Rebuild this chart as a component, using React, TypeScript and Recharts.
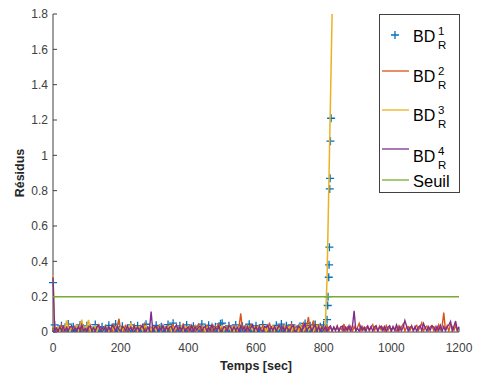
import React from 'react'
import { ComposedChart, Line, XAxis, YAxis } from 'recharts'

const FONT = '"Liberation Sans", Arial, Helvetica, sans-serif'
const AXIS = '#404040'

const STEP = 5 // sampling step of the noise arrays, sec
const xTicks = [0, 200, 400, 600, 800, 1000, 1200]
const yTicks = [0, 0.2, 0.4, 0.6, 0.8, 1, 1.2, 1.4, 1.6, 1.8]

// BD_R^1 (blue +), x1e-3, every 5 s from 0 to 805 s
const bd1Noise = [
  280, 40, 5, 8, 3, 35, 6, 4, 10, 45,
  5, 7, 30, 4, 9, 6, 40, 3, 8, 5,
  35, 6, 4, 10, 7, 42, 5, 3, 8, 30,
  6, 4, 9, 38, 5, 7, 3, 45, 6, 8,
  4, 32, 7, 5, 9, 3, 40, 6, 8, 4,
  36, 5, 7, 4, 10, 44, 6, 3, 8, 5,
  7, 38, 4, 6, 30, 5, 9, 3, 42, 6,
  4, 50, 8, 5, 7, 35, 3, 6, 9, 40,
  5, 7, 4, 33, 6, 8, 3, 10, 45, 5,
  7, 4, 38, 6, 9, 5, 30, 3, 8, 46,
  50, 6, 4, 8, 35, 5, 7, 3, 40, 6,
  9, 4, 32, 5, 7, 3, 44, 6, 8, 5,
  36, 4, 7, 5, 42, 6, 3, 9, 30, 5,
  7, 4, 38, 6, 5, 45, 8, 3, 35, 6,
  4, 40, 7, 5, 9, 3, 33, 6, 8, 48,
  5, 7, 36, 4, 6, 42, 3, 8, 30, 5,
  40, 6,
]
// BD_R^1 during the fault
const bd1FaultTime = [810, 812, 813, 815, 816, 817, 818, 819, 820, 822]
const bd1FaultVal = [0.07, 0.15, 0.2, 0.31, 0.38, 0.48, 0.81, 0.87, 1.08, 1.21]

// BD_R^2 (orange), x1e-3, every 5 s from 0 to 1200 s
const bd2 = [
  8, 30, 5, 22, 12, 38, 4, 26, 10, 40,
  6, 28, 14, 33, 3, 24, 45, 9, 30, 5,
  26, 7, 38, 12, 20, 4, 32, 42, 8, 25,
  10, 35, 5, 27, 15, 4, 40, 11, 33, 75,
  9, 28, 4, 35, 14, 6, 31, 10, 40, 5,
  22, 8, 34, 12, 45, 6, 19, 30, 4, 26,
  32, 7, 27, 38, 5, 25, 12, 30, 36, 8,
  28, 42, 6, 26, 11, 33, 4, 48, 9, 29,
  5, 35, 14, 30, 6, 27, 44, 10, 31, 4,
  26, 37, 8, 28, 5, 34, 12, 30, 46, 7,
  27, 5, 33, 13, 40, 6, 29, 9, 35, 4,
  30, 105, 8, 28, 36, 5, 26, 41, 10, 31,
  6, 34, 27, 4, 38, 12, 30, 7, 45, 26,
  5, 32, 10, 29, 40, 6, 35, 14, 4, 33,
  9, 44, 5, 31, 12, 37, 4, 28, 50, 8,
  30, 85, 10, 35, 65, 6, 30, 40, 9, 36,
  12, 5, 34, 8, 30, 4, 27, 10, 35, 6,
  26, 8, 45, 5, 28, 11, 32, 4, 30, 9,
  27, 48, 6, 30, 10, 26, 34, 5, 28, 42,
  7, 30, 4, 33, 12, 28, 6, 36, 9, 29,
  5, 31, 14, 4, 34, 10, 29, 45, 6, 27,
  30, 8, 35, 5, 28, 38, 9, 30, 52, 4,
  27, 33, 6, 29, 36, 10, 30, 5, 40, 12,
  30, 110, 8, 35, 5, 45, 30, 9, 38, 6,
  28,
]

// BD_R^3 (yellow), x1e-3, every 5 s from 0 to 830 s (fault ramp at the end)
const bd3 = [
  320, 8, 18, 30, 5, 22, 28, 6, 65, 24,
  4, 30, 12, 22, 35, 6, 28, 70, 8, 25,
  30, 68, 5, 26, 10, 32, 4, 29, 12, 27,
  6, 34, 19, 5, 25, 31, 8, 27, 36, 4,
  26, 9, 30, 5, 33, 12, 52, 6, 18, 29,
  4, 31, 26, 8, 28, 35, 5, 27, 11, 30,
  24, 6, 18, 33, 5, 22, 30, 9, 27, 36,
  5, 28, 12, 31, 4, 26, 34, 8, 29, 25,
  30, 6, 27, 11, 35, 5, 21, 29, 8, 32,
  4, 28, 25, 9, 33, 6, 30, 18, 5, 29,
  35, 8, 27, 5, 31, 12, 29, 4, 28, 10,
  26, 32, 5, 29, 9, 34, 6, 28, 12, 30,
  5, 27, 36, 8, 19, 31, 4, 22, 29, 10,
  33, 6, 28, 12, 30, 5, 27, 35, 8, 26,
  29, 5, 31, 10, 20, 4, 34, 24, 7, 21,
  30, 9, 22, 33, 5, 29, 38, 6, 31, 27,
  8, 40, 300, 800, 1300, 1800, 2300,
]

// BD_R^4 (purple), x1e-3, every 5 s from 0 to 1200 s
const bd4 = [
  310, 6, 22, 4, 28, 10, 32, 5, 25, 8,
  27, 35, 6, 24, 4, 30, 12, 40, 7, 19,
  5, 28, 33, 8, 25, 4, 30, 36, 6, 27,
  10, 31, 4, 29, 7, 38, 26, 5, 33, 12,
  4, 30, 24, 6, 35, 9, 28, 5, 32, 11,
  30, 5, 27, 36, 8, 4, 29, 10, 115, 6,
  26, 33, 5, 28, 9, 38, 4, 30, 12, 27,
  32, 6, 26, 40, 5, 29, 11, 34, 4, 20,
  28, 7, 36, 5, 30, 10, 27, 33, 4, 26,
  31, 5, 25, 9, 42, 6, 27, 12, 34, 4,
  8, 30, 26, 5, 35, 28, 6, 32, 10, 27,
  4, 36, 9, 29, 6, 31, 5, 27, 38, 11,
  29, 5, 33, 8, 4, 30, 26, 40, 6, 28,
  10, 31, 4, 27, 35, 7, 29, 5, 33, 12,
  6, 28, 37, 4, 9, 32, 26, 5, 30, 44,
  8, 25, 33, 5, 27, 38, 6, 30, 4, 28,
  10, 30, 5, 26, 34, 6, 29, 8, 31, 4,
  27, 33, 6, 28, 9, 36, 5, 30, 120, 7,
  21, 5, 34, 10, 27, 4, 32, 12, 30, 6,
  28, 36, 5, 26, 33, 8, 30, 4, 27, 35,
  6, 29, 10, 40, 5, 31, 8, 28, 65, 34,
  5, 27, 33, 9, 30, 4, 28, 36, 7, 48,
  26, 6, 30, 10, 35, 28, 5, 32, 9, 38,
  5, 30, 8, 29, 40, 60, 6, 33, 62, 10,
  30,
]

// threshold
const seuilTime = [0, 1200]
const seuil = 0.2

const toPoints = (vals: number[]) => vals.map((v, i) => ({ t: i * STEP, v: v / 1000 }))

const bd1Data = [
  ...toPoints(bd1Noise),
  ...bd1FaultTime.map((t, i) => ({ t, v: bd1FaultVal[i] })),
]
const bd2Data = toPoints(bd2)
const bd3Data = toPoints(bd3)
const bd4Data = toPoints(bd4)
const seuilData = seuilTime.map(t => ({ t, v: seuil }))

const Plus = (props: any) => {
  const { cx, cy } = props
  if (cx == null || cy == null) return null
  const a = 4
  return (
    <path
      key={`${cx}-${cy}`}
      d={`M${cx - a},${cy}H${cx + a}M${cx},${cy - a}V${cy + a}`}
      stroke="#0072BD"
      strokeWidth={1.3}
      fill="none"
    />
  )
}

const fmtY = (v: number) => String(Number(v.toFixed(1)))
const tickStyle = { fill: AXIS, fontSize: 12, fontFamily: FONT }
const W = 477
const H = 378
const MARGIN = { top: 14, right: 18, bottom: 0, left: 0 }
// the overlay has no visible axes, so its margins take the axes' room
const OVERLAY_MARGIN = { top: 14, right: 18, bottom: 46, left: 53 }

// MATLAB-like legend box, laid over the top right corner of the axes
function LegendBox() {
  const rows = [
    { sup: '1', color: '#0072BD', base: 28, mark: 21, plus: true },
    { sup: '2', color: '#D95319', base: 68, mark: 57 },
    { sup: '3', color: '#EDB120', base: 107, mark: 96 },
    { sup: '4', color: '#7E2F8E', base: 148, mark: 135 },
  ]
  return (
    <svg
      width={81}
      height={179}
      style={{ position: 'absolute', left: 379, top: 14, fontFamily: FONT }}
    >
      <rect x={0.5} y={0.5} width={80} height={178} fill="#fff" stroke={AXIS} />
      {rows.map(r => (
        <g key={r.sup}>
          {r.plus ? (
            <path d={`M12,${r.mark}H20M16,${r.mark - 4}V${r.mark + 4}`} stroke={r.color} strokeWidth={1.3} />
          ) : (
            <line x1={3} x2={30} y1={r.mark} y2={r.mark} stroke={r.color} strokeWidth={1.3} />
          )}
          <text x={34} y={r.base} fontSize={16} fill="#000">BD</text>
          <text x={59} y={r.base - 7} fontSize={11.5} fill="#000">{r.sup}</text>
          <text x={59} y={r.base + 7} fontSize={11.5} fill="#000">R</text>
        </g>
      ))}
      <line x1={3} x2={30} y1={166} y2={166} stroke="#77AC30" strokeWidth={1.3} />
      <text x={34} y={173} fontSize={16.5} fill="#000">Seuil</text>
    </svg>
  )
}

export default function App() {
  return (
    <div style={{ position: 'absolute', left: 0, top: 0, width: W, height: H, background: '#fff' }}>
      {/* bottom layer: axes and the BD_R^1 markers */}
      <div style={{ position: 'absolute', left: 0, top: 0 }}>
        <ComposedChart width={W} height={H} margin={MARGIN} style={{ fontFamily: FONT }}>
          <XAxis
            dataKey="t"
            type="number"
            domain={[0, 1200]}
            ticks={xTicks}
            interval={0}
            height={46}
            stroke={AXIS}
            tickSize={-4}
            tickMargin={15}
            tick={tickStyle}
            label={{
              value: 'Temps [sec]',
              position: 'insideBottom',
              offset: 8,
              style: { fontWeight: 'bold', fontSize: 12.5, fill: '#262626', fontFamily: FONT },
            }}
          />
          <XAxis
            xAxisId="top"
            orientation="top"
            type="number"
            domain={[0, 1200]}
            ticks={xTicks}
            interval={0}
            height={0}
            stroke={AXIS}
            tickSize={-4}
            tickFormatter={() => ''}
          />
          <YAxis
            dataKey="v"
            type="number"
            domain={[0, 1.8]}
            ticks={yTicks}
            interval={0}
            allowDataOverflow
            width={53}
            stroke={AXIS}
            tickSize={-4}
            tickMargin={9}
            tick={tickStyle}
            tickFormatter={fmtY}
            label={{
              value: 'Résidus',
              angle: -90,
              position: 'insideLeft',
              offset: 20,
              style: { fontWeight: 'bold', fontSize: 12.5, fill: '#262626', fontFamily: FONT, textAnchor: 'middle' },
            }}
          />
          <YAxis
            yAxisId="r"
            orientation="right"
            type="number"
            domain={[0, 1.8]}
            ticks={yTicks}
            interval={0}
            width={0}
            stroke={AXIS}
            tickSize={-4}
            tickFormatter={() => ''}
          />
          <Line
            data={bd1Data}
            dataKey="v"
            stroke="none"
            dot={<Plus />}
            activeDot={false}
            isAnimationActive={false}
          />
        </ComposedChart>
      </div>

      {/* top layer: the residual lines and the threshold, same scales */}
      <div style={{ position: 'absolute', left: 0, top: 0 }}>
        <ComposedChart width={W} height={H} margin={OVERLAY_MARGIN}>
          <XAxis dataKey="t" type="number" domain={[0, 1200]} hide />
          <YAxis dataKey="v" type="number" domain={[0, 1.8]} allowDataOverflow hide />
          <Line data={bd2Data} dataKey="v" stroke="#D95319" strokeWidth={1.4} dot={false} isAnimationActive={false} />
          <Line data={bd3Data} dataKey="v" stroke="#EDB120" strokeWidth={1.5} dot={false} isAnimationActive={false} />
          <Line data={bd4Data} dataKey="v" stroke="#7E2F8E" strokeWidth={1.4} dot={false} isAnimationActive={false} />
          <Line data={seuilData} dataKey="v" stroke="#77AC30" strokeWidth={1.5} dot={false} isAnimationActive={false} />
        </ComposedChart>
      </div>

      <LegendBox />
    </div>
  )
}
